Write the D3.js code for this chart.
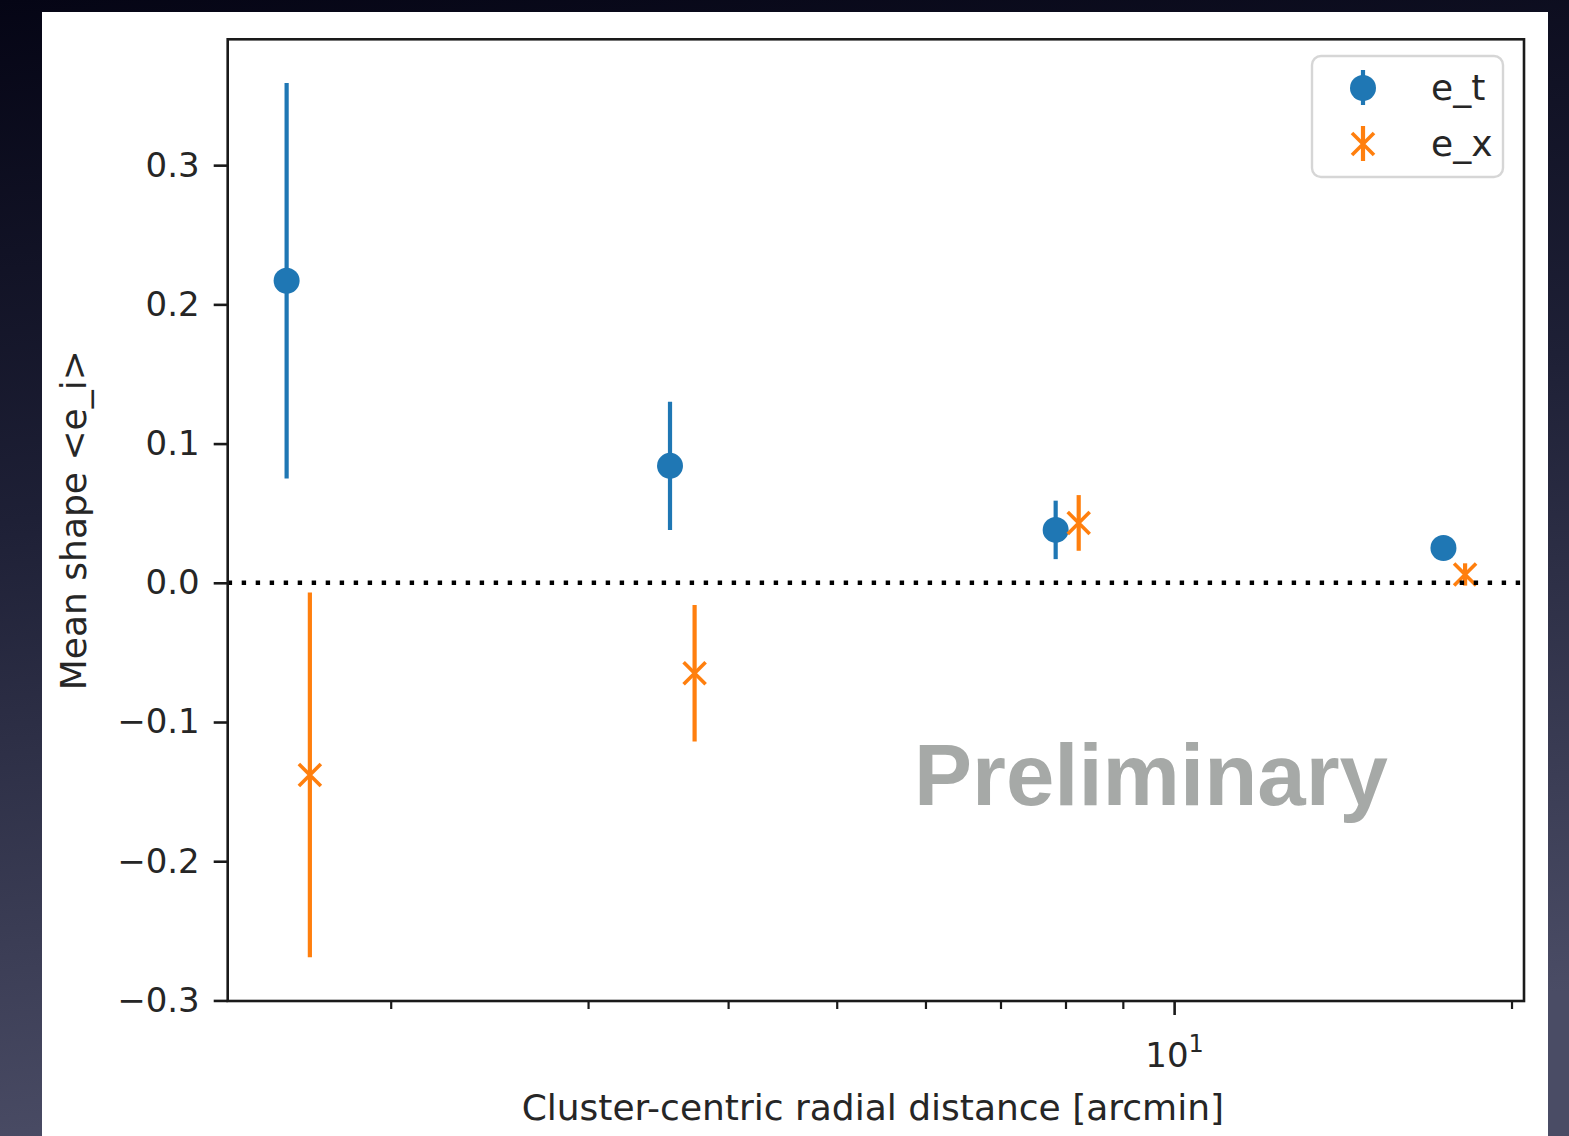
<!DOCTYPE html>
<html>
<head>
<meta charset="utf-8">
<script src="https://cdn.jsdelivr.net/npm/d3@7"></script>
<style>
  html, body { margin: 0; padding: 0; background: #0b0b1f; }
  svg { display: block; }
</style>
</head>
<body>
<svg id="chart" width="1569" height="1136"></svg>
<script>
// Radial bins (arcmin) and mean tangential / cross shear per bin, with 1-sigma errors
const radiusT = [1.615, 3.55, 7.84, 17.39];
const meanT   = [0.217, 0.084, 0.038, 0.025];
const errT    = [0.142, 0.046, 0.021, 0.005];

const radiusX = [1.694, 3.734, 8.22, 18.18];
const meanX   = [-0.138, -0.065, 0.043, 0.006];
const errX    = [0.131, 0.049, 0.020, 0.008];

const seriesNames = ["e_t", "e_x"];
const yTicks = [-0.3, -0.2, -0.1, 0.0, 0.1, 0.2, 0.3];
const xMajorTicks = [10];
const xMinorTicks = [2, 3, 4, 5, 6, 7, 8, 9, 20];

const colors = { t: "#1f77b4", x: "#ff7f0e" };
const W = 1569, H = 1136;
const plot = { left: 227.7, right: 1524, top: 39.3, bottom: 1001 };

const svg = d3.select("#chart");

// slide background and white figure panel
const defs = svg.append("defs");
const bg = defs.append("linearGradient").attr("id", "bg")
  .attr("x1", "0").attr("y1", "0").attr("x2", "0.15").attr("y2", "1");
bg.append("stop").attr("offset", "0%").attr("stop-color", "#050515");
bg.append("stop").attr("offset", "45%").attr("stop-color", "#1e2036");
bg.append("stop").attr("offset", "100%").attr("stop-color", "#4a4c65");
svg.append("rect").attr("width", W).attr("height", H).attr("fill", "url(#bg)");
svg.append("rect").attr("x", 42).attr("y", 12).attr("width", 1506).attr("height", H - 12)
  .attr("fill", "#ffffff");

// data series
const seriesT = radiusT.map((r, i) => ({ r, m: meanT[i], e: errT[i] }));
const seriesX = radiusX.map((r, i) => ({ r, m: meanX[i], e: errX[i] }));
const all = seriesT.concat(seriesX);

// autoscale with 5% margins (log space for x)
const lx = d3.extent(all, d => Math.log10(d.r));
const px = 0.05 * (lx[1] - lx[0]);
const x = d3.scaleLog()
  .domain([Math.pow(10, lx[0] - px), Math.pow(10, lx[1] + px)])
  .range([plot.left, plot.right]);

const ylo = d3.min(all, d => d.m - d.e), yhi = d3.max(all, d => d.m + d.e);
const py = 0.05 * (yhi - ylo);
const y = d3.scaleLinear().domain([ylo - py, yhi + py]).range([plot.bottom, plot.top]);

const tickFont = "'DejaVu Sans', sans-serif";
const ink = "#262626";

// y axis
const yAxis = svg.append("g").attr("transform", `translate(${plot.left},0)`)
  .call(d3.axisLeft(y).tickValues(yTicks).tickFormat(d3.format(".1f")).tickSize(14).tickPadding(14));
yAxis.select(".domain").remove();
yAxis.selectAll("line").attr("stroke", "#1a1a1a").attr("stroke-width", 2.6);
yAxis.selectAll("text").attr("font-family", tickFont).attr("font-size", 34).attr("fill", ink);

// x axis: minor then major ticks
const xMinor = svg.append("g").attr("transform", `translate(0,${plot.bottom})`)
  .call(d3.axisBottom(x).tickValues(xMinorTicks).tickFormat(() => "").tickSize(8));
xMinor.select(".domain").remove();
xMinor.selectAll("line").attr("stroke", "#1a1a1a").attr("stroke-width", 2.2);

const xMajor = svg.append("g").attr("transform", `translate(0,${plot.bottom})`)
  .call(d3.axisBottom(x).tickValues(xMajorTicks).tickFormat(() => "").tickSize(14));
xMajor.select(".domain").remove();
xMajor.selectAll("line").attr("stroke", "#1a1a1a").attr("stroke-width", 2.6);
xMajor.selectAll(".tick text").each(function(d) {
  const t = d3.select(this).attr("dy", null).attr("y", 66)
    .attr("font-family", tickFont).attr("font-size", 34).attr("fill", ink)
    .attr("text-anchor", "middle");
  t.text(null);
  const exp = Math.round(Math.log10(d));
  t.append("tspan").text("10");
  t.append("tspan").attr("font-size", 24).attr("dy", -15).text(String(exp));
});

// axis titles
svg.append("text")
  .attr("x", (plot.left + plot.right) / 2 - 3).attr("y", 1120)
  .attr("text-anchor", "middle").attr("font-family", tickFont).attr("font-size", 36)
  .attr("fill", ink).text("Cluster-centric radial distance [arcmin]");
svg.append("text")
  .attr("transform", `translate(86,${(plot.top + plot.bottom) / 2}) rotate(-90)`)
  .attr("text-anchor", "middle").attr("font-family", tickFont).attr("font-size", 36)
  .attr("fill", ink).text("Mean shape <e_i>");

// watermark
svg.append("text")
  .attr("x", 914).attr("y", 805)
  .attr("font-family", "'Liberation Sans', Arial, sans-serif").attr("font-weight", "bold")
  .attr("font-size", 87).attr("fill", "#a6a9a7").text("Preliminary");

const lw = 4.2;

// e_t: vertical error bars with filled circles
const gT = svg.append("g");
gT.selectAll("line").data(seriesT).join("line")
  .attr("x1", d => x(d.r)).attr("x2", d => x(d.r))
  .attr("y1", d => y(d.m - d.e)).attr("y2", d => y(d.m + d.e))
  .attr("stroke", colors.t).attr("stroke-width", lw);
gT.selectAll("circle").data(seriesT).join("circle")
  .attr("cx", d => x(d.r)).attr("cy", d => y(d.m)).attr("r", 13)
  .attr("fill", colors.t);

// e_x: vertical error bars with x markers
const xMark = s => `M${-s},${-s}L${s},${s}M${-s},${s}L${s},${-s}`;
const gX = svg.append("g");
gX.selectAll("line").data(seriesX).join("line")
  .attr("x1", d => x(d.r)).attr("x2", d => x(d.r))
  .attr("y1", d => y(d.m - d.e)).attr("y2", d => y(d.m + d.e))
  .attr("stroke", colors.x).attr("stroke-width", lw);
gX.selectAll("path").data(seriesX).join("path")
  .attr("transform", d => `translate(${x(d.r)},${y(d.m)})`)
  .attr("d", xMark(11)).attr("stroke", colors.x).attr("stroke-width", 3.6)
  .attr("fill", "none");

// zero reference line
svg.append("line")
  .attr("x1", plot.left).attr("x2", plot.right)
  .attr("y1", y(0)).attr("y2", y(0))
  .attr("stroke", "#000").attr("stroke-width", 4.4)
  .attr("stroke-dasharray", "4.4,9.6");

// frame
svg.append("rect")
  .attr("x", plot.left).attr("y", plot.top)
  .attr("width", plot.right - plot.left).attr("height", plot.bottom - plot.top)
  .attr("fill", "none").attr("stroke", "#1a1a1a").attr("stroke-width", 2.6);

// legend
const leg = svg.append("g").attr("transform", "translate(1312,56)");
leg.append("rect").attr("width", 191).attr("height", 121).attr("rx", 9)
  .attr("fill", "#fff").attr("fill-opacity", 0.8)
  .attr("stroke", "#d6d6d6").attr("stroke-width", 2.4);
seriesNames.forEach((name, i) => {
  const cy = 32 + i * 56;
  const col = i === 0 ? colors.t : colors.x;
  leg.append("line").attr("x1", 51).attr("x2", 51).attr("y1", cy - 18).attr("y2", cy + 17)
    .attr("stroke", col).attr("stroke-width", lw);
  if (i === 0) {
    leg.append("circle").attr("cx", 51).attr("cy", cy).attr("r", 13).attr("fill", col);
  } else {
    leg.append("path").attr("transform", `translate(51,${cy})`).attr("d", xMark(11))
      .attr("stroke", col).attr("stroke-width", 3.6).attr("fill", "none");
  }
  leg.append("text").attr("x", 119).attr("y", cy + 12)
    .attr("font-family", tickFont).attr("font-size", 36).attr("fill", ink).text(name);
});
</script>
</body>
</html>
